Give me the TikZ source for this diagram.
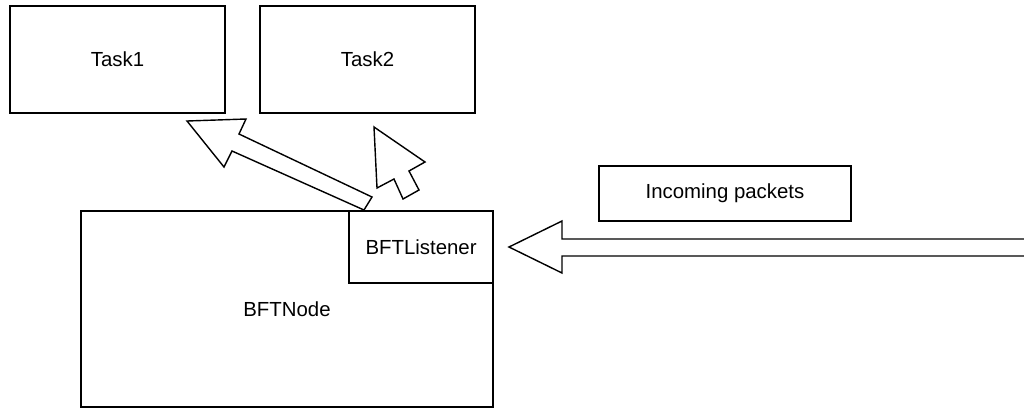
\documentclass[tikz,border=0pt]{standalone}
\usepackage{fontspec}
\setmainfont{Liberation Sans}
\tikzset{>=stealth}
\tikzset{box/.style={draw, line width=1pt, inner sep=0pt, font=\fontsize{14.5}{17}\selectfont}}

\begin{document}
\begin{tikzpicture}[x=0.025cm, y=-0.025cm]
\useasboundingbox (0,0) rectangle (1024,409);
\clip (0,0) rectangle (1024,409);
\node [box, minimum width=5.375cm, minimum height=2.675cm] (task1) at (117.5, 59.5) {Task1};
\node [box, minimum width=5.375cm, minimum height=2.675cm] (task2) at (367.5, 59.5) {Task2};
\node [box, minimum width=10.3cm, minimum height=4.9cm] (bftnode) at (287, 309) {BFTNode};
\node [box, minimum width=3.6cm, minimum height=1.8cm, anchor=north east] (listener) at (bftnode.north east) {BFTListener};
\node [box, minimum width=6.3cm, minimum height=1.375cm] (packets) at (725, 193.5) {Incoming packets};
% block arrows
\draw [line width=1pt, line join=miter] (187,121) -- (246,119) -- (239,134) -- (372,197) -- (364,210) -- (232,151) -- (224,167) -- cycle;
\draw [line width=1pt, line join=miter] (374,127) -- (425,162) -- (409,171) -- (419,190) -- (403,199) -- (394,179) -- (377,188) -- cycle;
\draw [line width=1pt, line join=miter] (509,247) -- (562,221) -- (562,239) -- (1040,239) -- (1040,256) -- (562,256) -- (562,273) -- cycle;
\end{tikzpicture}
\end{document}
